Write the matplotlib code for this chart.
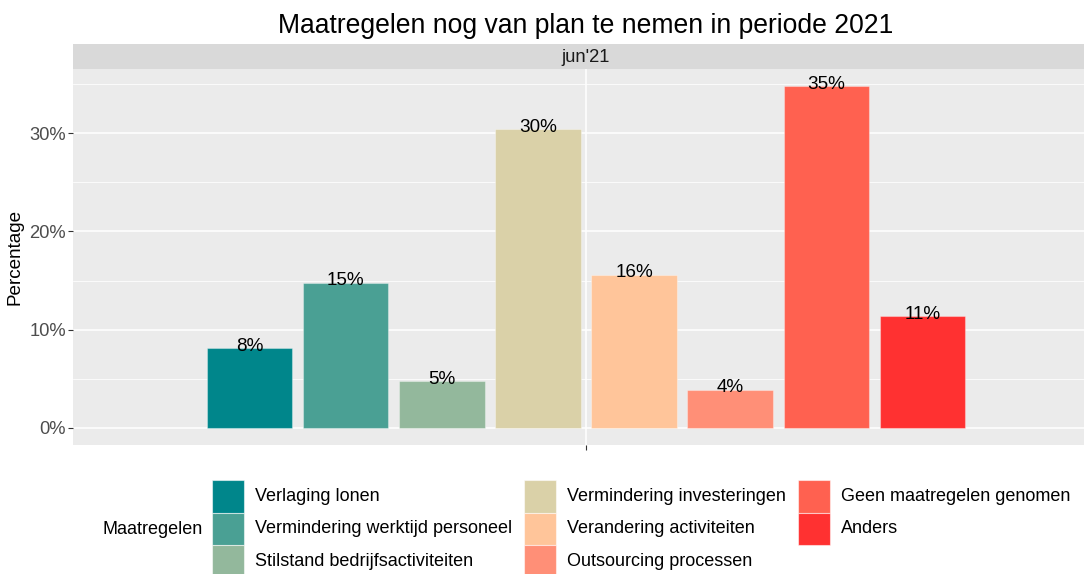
import matplotlib
matplotlib.use("Agg")
import matplotlib.pyplot as plt
from matplotlib.patches import Rectangle

plt.rcParams["font.family"] = ["Liberation Sans", "DejaVu Sans"]

maatregelen = ["Verlaging lonen", "Vermindering werktijd personeel", "Stilstand bedrijfsactiviteiten",
               "Vermindering investeringen", "Verandering activiteiten", "Outsourcing processen",
               "Geen maatregelen genomen", "Anders"]
percentages = [8.1, 14.8, 4.8, 30.4, 15.6, 3.9, 34.8, 11.4]
labels = ["8%", "15%", "5%", "30%", "16%", "4%", "35%", "11%"]
kleuren = ["#00868B", "#4AA094", "#93B89C", "#DAD1A8", "#FFC59A", "#FF8F77", "#FF6150", "#FF3131"]
periode = "jun'21"

W, H = 1084, 574
fig = plt.figure(figsize=(W / 100, H / 100), dpi=100)
# panel runs past the right edge of the image, as in the original
ax = fig.add_axes([73 / W, 1 - 445 / H, 1026 / W, 376 / H])
ax.set_facecolor("#EBEBEB")

pitch, width = 0.1124, 0.100
n = len(percentages)
xs = [(i - (n - 1) / 2) * pitch for i in range(n)]
ax.bar(xs, percentages, width=width, color=kleuren, edgecolor="#FFFFFF55", linewidth=0.8, zorder=3)
for x, v, lab in zip(xs, percentages, labels):
    ax.annotate(lab, (x, v), xytext=(0, -2), textcoords="offset points", ha="center", va="baseline",
                fontsize=13.6, color="#000000", zorder=4)

ax.set_xlim(-0.6, 0.6)
ax.set_ylim(-1.74, 36.54)
ax.set_yticks([0, 10, 20, 30])
ax.set_yticklabels(["0%", "10%", "20%", "30%"])
ax.set_yticks([5, 15, 25, 35], minor=True)
ax.set_xticks([0])
ax.set_xticklabels([""])
ax.grid(True, which="major", color="white", linewidth=1.1, zorder=0)
ax.grid(True, which="minor", axis="y", color="white", linewidth=0.55, zorder=0)
ax.set_axisbelow(True)
ax.tick_params(axis="y", which="major", labelsize=13.2, labelcolor="#4D4D4D", color="#333333",
               length=3.5, width=0.8, pad=1.5)
ax.tick_params(axis="x", which="major", color="#333333", length=3.5, width=0.8)
ax.tick_params(which="minor", length=0)
for s in ax.spines.values():
    s.set_visible(False)
ax.set_ylabel("Percentage", fontsize=13.6, color="black", labelpad=4)

# facet strip
fig.patches.append(Rectangle((73 / W, 1 - 69 / H), 1026 / W, 25 / H, transform=fig.transFigure,
                             facecolor="#D9D9D9", edgecolor="none"))
fig.text(586 / W, 1 - 57 / H, periode, ha="center", va="center", fontsize=13.2, color="#1A1A1A")

fig.text(586 / W, 1 - 26 / H, "Maatregelen nog van plan te nemen in periode 2021",
         ha="center", va="center", fontsize=19.1, color="black")

# legend: title on the left, keys filled column by column (3, 3, 2)
fig.text(103 / W, 1 - 529 / H, "Maatregelen", ha="left", va="center", fontsize=13, color="black")
key_x = [212, 524, 798]
text_x = [255, 567, 841]
key_w, key_h, top = 32, 32.5, 480
for i, (naam, kleur) in enumerate(zip(maatregelen, kleuren)):
    col, row = divmod(i, 3)
    y0 = top + row * key_h
    fig.patches.append(Rectangle((key_x[col] / W, 1 - (y0 + key_h) / H), key_w / W, key_h / H,
                                 transform=fig.transFigure, facecolor=kleur,
                                 edgecolor="#FFFFFF88", linewidth=0.8))
    fig.text(text_x[col] / W, 1 - (y0 + key_h / 2) / H, naam, ha="left", va="center",
             fontsize=13, color="black")

fig.savefig("out.png", dpi=100)
